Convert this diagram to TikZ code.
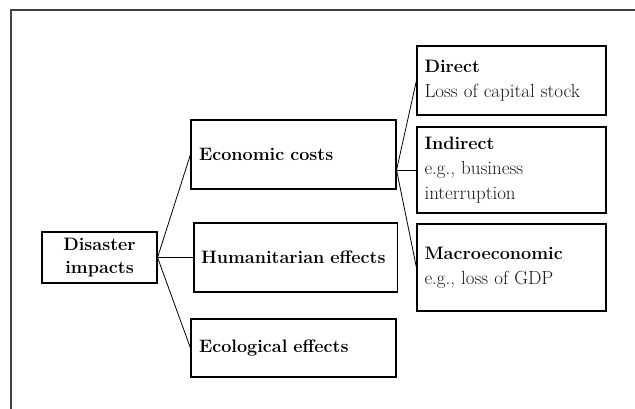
\documentclass[tikz,border=0pt]{standalone}
\usepackage{fontspec}
\usepackage{tikz}
\usetikzlibrary{calc}

\begin{document}
\begin{tikzpicture}[x=1pt,y=-1pt,
	box/.style={draw, line width=1.1pt, inner sep=0pt, inner xsep=8pt, align=left,
		font=\fontsize{18}{25}\selectfont},
	cost/.style={box, text width=#1},
	link/.style={line width=0.8pt}]

	\useasboundingbox (0,0) rectangle (635,409);

	% frame
	\draw[line width=1.2pt, black!75] (11,409) -- (11,10) -- (635,10);

	% Boxes
	\node[box, minimum width=115pt, minimum height=51pt, align=center, inner xsep=0pt,
		font=\fontsize{18}{22.5}\selectfont\bfseries] (dis) at (99.5,257.5) {Disaster\\impacts};

	\node[cost=189pt, minimum height=69pt, font=\fontsize{18}{25}\selectfont\bfseries] (eco) at (293.5,154.5) {Economic costs};
	\node[cost=189.5pt, minimum height=69pt, inner xsep=7pt, font=\fontsize{18}{25}\selectfont\bfseries] (hum) at (295.75,257.5) {Humanitarian effects};
	\node[cost=189pt, minimum height=58pt, font=\fontsize{18}{25}\selectfont\bfseries] (eco2) at (293.5,348) {Ecological effects};

	\node[cost=174pt, minimum height=69pt, inner xsep=7.5pt] (dir) at (511.5,80.5)
		{\textbf{Direct}\\\color{black!90}\fontsize{19}{25}\selectfont Loss of capital stock};
	\node[cost=174pt, minimum height=86pt, inner xsep=7.5pt] (ind) at (511.5,170)
		{\textbf{Indirect}\\\color{black!90}\fontsize{19}{25}\selectfont e.g., business\\interruption};
	\node[cost=174pt, minimum height=87pt, inner xsep=7.5pt] (mac) at (511.5,267.5)
		{\textbf{Macroeconomic}\\\color{black!90}\fontsize{19}{25}\selectfont e.g., loss of GDP};

	% Links
	\draw[link] (dis.east) -- (eco.west);
	\draw[link] (dis.east) -- (hum.west);
	\draw[link] (dis.east) -- (eco2.west);

	\coordinate (fork) at (eco.east |- ind.west);
	\draw[link] (fork) -- (dir.west);
	\draw[link] (fork) -- (ind.west);
	\draw[link] (fork) -- (mac.west);

\end{tikzpicture}
\end{document}
